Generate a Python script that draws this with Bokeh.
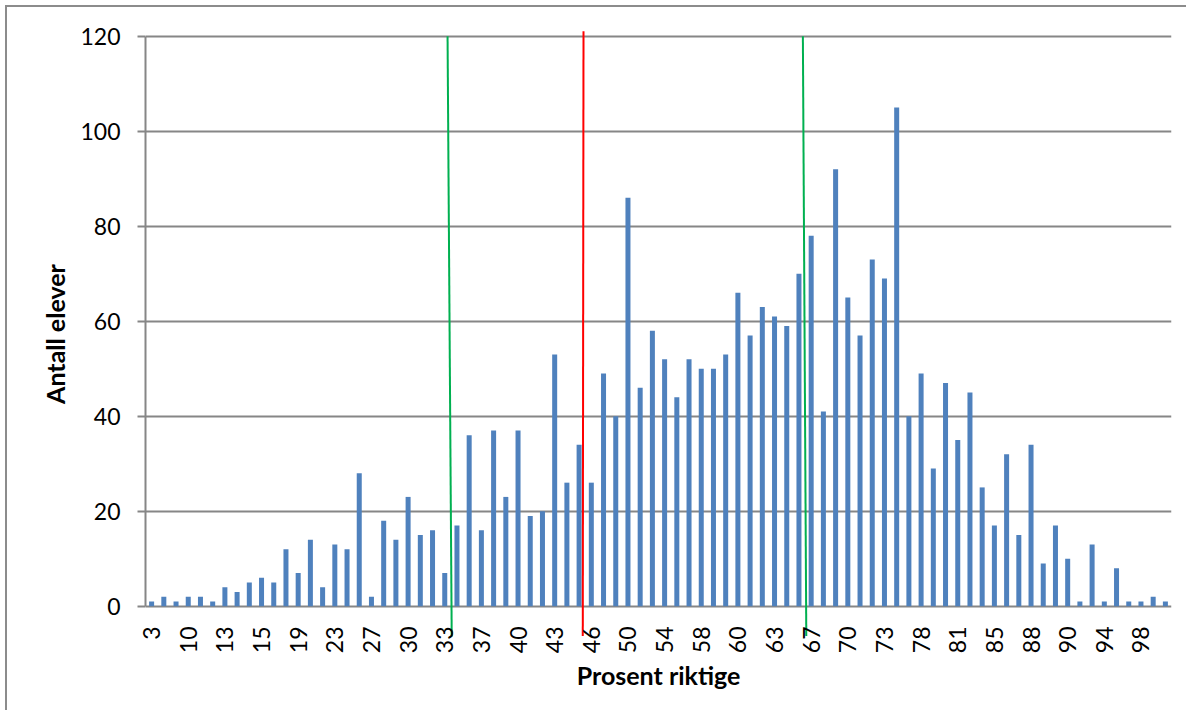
import math
from bokeh.plotting import figure
from bokeh.models import FixedTicker, Range1d, ColumnDataSource
from bokeh.embed import file_html
from bokeh.resources import INLINE

# Percent-correct categories (every third label is shown on the axis)
categories = ["3", "5", "8", "10", "11", "12", "13", "13", "14", "15", "17", "18",
              "19", "20", "22", "23", "25", "26", "27", "28", "29", "30", "31", "32",
              "33", "35", "36", "37", "38", "39", "40", "41", "42", "43", "44", "45",
              "46", "47", "48", "50", "51", "53", "54", "55", "57", "58", "59", "59",
              "60", "61", "62", "63", "64", "65", "67", "68", "69", "70", "71", "72",
              "73", "75", "77", "78", "79", "80", "81", "83", "84", "85", "86", "87",
              "88", "89", "89", "90", "92", "93", "94", "95", "97", "98", "99", "100"]

# Number of students per category
counts = [1, 2, 1, 2, 2, 1, 4, 3, 5, 6, 5, 12,
          7, 14, 4, 13, 12, 28, 2, 18, 14, 23, 15, 16,
          7, 17, 36, 16, 37, 23, 37, 19, 20, 53, 26, 34,
          26, 49, 40, 86, 46, 58, 52, 44, 52, 50, 50, 53,
          66, 57, 63, 61, 59, 70, 78, 41, 92, 65, 57, 73,
          69, 105, 40, 49, 29, 47, 35, 45, 25, 17, 32, 15,
          34, 9, 17, 10, 1, 13, 1, 8, 1, 1, 2, 1]

y_ticks = [0, 20, 40, 60, 80, 100, 120]

# Threshold lines (in category-index units), as drawn on the original
threshold_x_top = [24.23, 35.36, 53.32]
threshold_x_bottom = [24.57, 35.30, 53.60]
threshold_y_top = [120, 121.05, 120]
threshold_y_bottom = [-6.4, -6.3, -6.3]
threshold_colors = ["#00B050", "#FF0000", "#00B050"]

n = len(categories)
idx = list(range(n))
shown = idx[::3]

FONT = "Lato"
GRID = "#868686"
OFF = 7  # chart-area border offset

p = figure(width=1188 - OFF, height=712 - OFF,
           x_range=Range1d(-0.5, n - 0.5), y_range=Range1d(-6.6, 121.2),
           output_backend="svg", toolbar_location=None,
           min_border_left=145 - OFF, min_border_right=17,
           min_border_top=30 - OFF, min_border_bottom=75)
p.styles = {"margin-left": "5px", "margin-top": "5px",
            "border-left": "2px solid #8c8c8c", "border-top": "2px solid #8c8c8c"}
p.outline_line_color = None
p.background_fill_color = "white"
p.border_fill_color = "white"

src = ColumnDataSource(dict(x=idx, top=counts, cat=categories))
p.vbar(x="x", top="top", bottom=0, width=0.41, source=src,
       fill_color="#4F81BD", line_color=None)

lines = ColumnDataSource(dict(x0=threshold_x_top, y0=threshold_y_top,
                              x1=threshold_x_bottom, y1=threshold_y_bottom,
                              color=threshold_colors))
p.segment(x0="x0", y0="y0", x1="x1", y1="y1", color="color", line_width=2,
          source=lines)

# grid
p.xgrid.visible = False
p.ygrid.ticker = FixedTicker(ticks=y_ticks)
p.ygrid.grid_line_color = GRID
p.ygrid.grid_line_width = 2

# y axis
p.yaxis.ticker = FixedTicker(ticks=y_ticks)
p.yaxis.bounds = (0, 120)
p.yaxis.axis_line_color = GRID
p.yaxis.axis_line_width = 2
p.yaxis.major_tick_line_color = GRID
p.yaxis.major_tick_line_width = 2
p.yaxis.major_tick_out = 8
p.yaxis.major_tick_in = 0
p.yaxis.minor_tick_line_color = None
p.yaxis.major_label_standoff = 17
p.yaxis.major_label_text_font = FONT
p.yaxis.major_label_text_font_size = "23px"
p.yaxis.major_label_text_color = "black"
p.yaxis.axis_label = "Antall elever"
p.yaxis.axis_label_text_font = FONT
p.yaxis.axis_label_text_font_style = "bold"
p.yaxis.axis_label_text_font_size = "25px"
p.yaxis.axis_label_text_color = "black"
p.yaxis.axis_label_standoff = 7

# x axis
p.xaxis.ticker = FixedTicker(ticks=shown)
p.xaxis.major_label_overrides = {i: categories[i] for i in shown}
p.xaxis.major_label_orientation = math.pi / 2
p.xaxis.axis_line_color = None
p.xaxis.major_tick_line_color = None
p.xaxis.minor_tick_line_color = None
p.xaxis.major_tick_out = 0
p.xaxis.major_tick_in = 0
p.xaxis.major_label_standoff = -11
p.xaxis.major_label_text_font = FONT
p.xaxis.major_label_text_font_size = "23px"
p.xaxis.major_label_text_color = "black"
p.xaxis.axis_label = "Prosent riktige"
p.xaxis.axis_label_text_font = FONT
p.xaxis.axis_label_text_font_style = "bold"
p.xaxis.axis_label_text_font_size = "25px"
p.xaxis.axis_label_text_color = "black"
p.xaxis.axis_label_standoff = 4

open("out.html", "w").write(file_html(p, INLINE))
